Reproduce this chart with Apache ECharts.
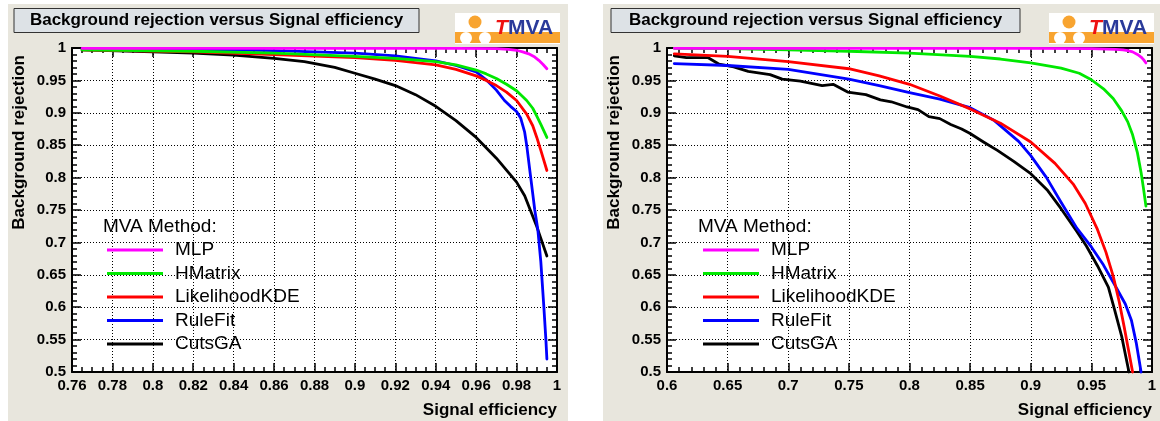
<!DOCTYPE html>
<html>
<head>
<meta charset="utf-8">
<script src="https://cdn.jsdelivr.net/npm/echarts@6/dist/echarts.min.js"></script>
<style>
html,body{margin:0;padding:0;background:#ffffff;}
#c{width:1160px;height:421px;}
</style>
</head>
<body>
<div id="c"></div>
<script>
// ---------- DATA ----------
const methods = ['MLP', 'HMatrix', 'LikelihoodKDE', 'RuleFit', 'CutsGA'];
const colors = ['#ff00ff', '#00e800', '#ff0000', '#0000ff', '#000000'];

// Left panel (signal efficiency 0.76 - 1)
const L_MLP_x = [0.765, 0.80, 0.85, 0.90, 0.95, 0.97, 0.976, 0.980, 0.983, 0.986, 0.989, 0.991, 0.993, 0.995];
const L_MLP_y = [0.9995, 0.9995, 0.9995, 0.9995, 0.9993, 0.999, 0.998, 0.9965, 0.994, 0.991, 0.986, 0.981, 0.975, 0.968];
const L_HM_x = [0.765, 0.82, 0.86, 0.90, 0.92, 0.94, 0.95, 0.96, 0.965, 0.97, 0.975, 0.98, 0.985, 0.988, 0.99, 0.992, 0.995];
const L_HM_y = [0.997, 0.995, 0.992, 0.987, 0.984, 0.979, 0.974, 0.966, 0.960, 0.953, 0.944, 0.934, 0.919, 0.907, 0.895, 0.882, 0.862];
const L_KDE_x = [0.765, 0.82, 0.86, 0.90, 0.92, 0.94, 0.95, 0.96, 0.965, 0.97, 0.975, 0.98, 0.985, 0.988, 0.99, 0.992, 0.995];
const L_KDE_y = [0.997, 0.994, 0.990, 0.985, 0.981, 0.974, 0.967, 0.957, 0.950, 0.942, 0.932, 0.919, 0.898, 0.880, 0.862, 0.842, 0.811];
const L_RF_x = [0.765, 0.82, 0.86, 0.88, 0.90, 0.92, 0.94, 0.95, 0.96, 0.965, 0.97, 0.974, 0.977, 0.98, 0.982, 0.984, 0.985, 0.987, 0.989, 0.9905, 0.992, 0.9935, 0.9945, 0.995];
const L_RF_y = [0.9985, 0.998, 0.996, 0.994, 0.992, 0.988, 0.980, 0.973, 0.963, 0.951, 0.935, 0.919, 0.910, 0.902, 0.892, 0.870, 0.850, 0.800, 0.750, 0.720, 0.670, 0.600, 0.550, 0.520];
const L_GA_x = [0.765, 0.80, 0.82, 0.84, 0.86, 0.875, 0.89, 0.90, 0.91, 0.92, 0.93, 0.94, 0.95, 0.96, 0.97, 0.98, 0.984, 0.9897, 0.995];
const L_GA_y = [0.997, 0.994, 0.992, 0.989, 0.984, 0.979, 0.970, 0.961, 0.952, 0.942, 0.928, 0.910, 0.888, 0.862, 0.830, 0.793, 0.772, 0.727, 0.679];

// Right panel (signal efficiency 0.6 - 1)
const R_MLP_x = [0.606, 0.70, 0.80, 0.90, 0.95, 0.97, 0.976, 0.98, 0.984, 0.988, 0.991, 0.993, 0.995];
const R_MLP_y = [0.9995, 0.9995, 0.9995, 0.9993, 0.999, 0.998, 0.997, 0.996, 0.994, 0.990, 0.986, 0.982, 0.977];
const R_HM_x = [0.606, 0.65, 0.70, 0.75, 0.80, 0.85, 0.875, 0.90, 0.925, 0.94, 0.95, 0.96, 0.968, 0.975, 0.98, 0.984, 0.988, 0.991, 0.993, 0.995];
const R_HM_y = [0.9995, 0.999, 0.997, 0.995, 0.992, 0.987, 0.983, 0.977, 0.969, 0.961, 0.951, 0.937, 0.922, 0.903, 0.886, 0.866, 0.838, 0.808, 0.783, 0.756];
const R_KDE_x = [0.606, 0.65, 0.70, 0.75, 0.775, 0.80, 0.825, 0.85, 0.875, 0.90, 0.92, 0.935, 0.945, 0.955, 0.962, 0.968, 0.973, 0.977, 0.981, 0.984];
const R_KDE_y = [0.991, 0.987, 0.979, 0.968, 0.957, 0.944, 0.926, 0.906, 0.884, 0.855, 0.822, 0.790, 0.760, 0.720, 0.685, 0.648, 0.608, 0.570, 0.530, 0.500];
const R_RF_x = [0.606, 0.65, 0.70, 0.75, 0.775, 0.80, 0.825, 0.85, 0.87, 0.89, 0.90, 0.913, 0.925, 0.938, 0.95, 0.96, 0.97, 0.978, 0.983, 0.987, 0.991];
const R_RF_y = [0.976, 0.973, 0.967, 0.952, 0.942, 0.931, 0.921, 0.908, 0.888, 0.856, 0.834, 0.800, 0.762, 0.722, 0.693, 0.665, 0.632, 0.605, 0.580, 0.545, 0.500];
const R_GA_x = [0.606, 0.616, 0.634, 0.643, 0.655, 0.667, 0.685, 0.695, 0.71, 0.728, 0.737, 0.749, 0.764, 0.776, 0.785, 0.798, 0.807, 0.816, 0.825, 0.834, 0.843, 0.85, 0.861, 0.8725, 0.886, 0.90, 0.914, 0.925, 0.938, 0.946, 0.955, 0.964, 0.969, 0.975, 0.981];
const R_GA_y = [0.988, 0.985, 0.985, 0.975, 0.971, 0.964, 0.959, 0.952, 0.949, 0.942, 0.944, 0.932, 0.928, 0.920, 0.917, 0.909, 0.905, 0.894, 0.891, 0.882, 0.875, 0.868, 0.855, 0.842, 0.825, 0.806, 0.780, 0.752, 0.717, 0.694, 0.664, 0.631, 0.597, 0.555, 0.500];

// Axis ranges
const L_xRange = { min: 0.76, max: 1, interval: 0.02, minor: 4 };
const R_xRange = { min: 0.6, max: 1, interval: 0.05, minor: 5 };
const yRange = { min: 0.5, max: 1, interval: 0.05, minor: 5 };

const panelTitle = 'Background rejection versus Signal efficiency';
const xTitle = 'Signal efficiency';
const yTitle = 'Background rejection';
const legendHeader = 'MVA Method:';

// ---------- BUILD ----------
const FONT = '"Liberation Sans", Arial, Helvetica, sans-serif';
const BEIGE = '#e8e6dd';
const zip = (xs, ys) => xs.map((x, i) => [x, ys[i]]);

const leftSets = [[L_MLP_x, L_MLP_y], [L_HM_x, L_HM_y], [L_KDE_x, L_KDE_y], [L_RF_x, L_RF_y], [L_GA_x, L_GA_y]];
const rightSets = [[R_MLP_x, R_MLP_y], [R_HM_x, R_HM_y], [R_KDE_x, R_KDE_y], [R_RF_x, R_RF_y], [R_GA_x, R_GA_y]];

const grids = [
  { left: 72, top: 48, width: 485, height: 324, show: true, backgroundColor: '#ffffff', borderWidth: 0, outerBoundsMode: 'none' },
  { left: 667, top: 48, width: 485, height: 324, show: true, backgroundColor: '#ffffff', borderWidth: 0, outerBoundsMode: 'none' }
];

const labelStyle = { show: true, margin: 6, color: '#000', fontFamily: FONT, fontWeight: 'bold', fontSize: 15, showMinLabel: true, showMaxLabel: true, hideOverlap: false };

function makeAxes(gi, r, posMain, posMirror) {
  const base = {
    type: 'value', gridIndex: gi, min: r.min, max: r.max, interval: r.interval,
    axisLine: { show: true, onZero: false, lineStyle: { color: '#000', width: 2 } },
    axisTick: { show: true, inside: true, length: 9, lineStyle: { color: '#000', width: 1.5 } },
    minorTick: { show: true, splitNumber: r.minor, length: 5, lineStyle: { color: '#000', width: 1.5 } },
  };
  return [
    Object.assign({}, base, {
      position: posMain,
      axisLabel: labelStyle,
      splitLine: { show: true, lineStyle: { color: '#000', type: [1, 2], width: 1 } }
    }),
    Object.assign({}, base, {
      position: posMirror,
      axisLabel: { show: false },
      splitLine: { show: false }
    })
  ];
}

const series = [];
[leftSets, rightSets].forEach((sets, gi) => {
  sets.forEach((s, i) => {
    series.push({
      type: 'line', name: methods[i],
      xAxisIndex: gi * 2, yAxisIndex: gi * 2,
      data: zip(s[0], s[1]),
      showSymbol: false, symbol: 'none',
      smooth: false,
      clip: false,
      color: colors[i],
      lineStyle: { color: colors[i], width: 2.8, join: 'round', cap: 'round' },
      z: 10 - i
    });
  });
});

function legendFor(left) {
  return {
    show: true, orient: 'vertical', left: left, top: 239,
    icon: 'rect', itemWidth: 56, itemHeight: 3, itemGap: 1.5,
    selectedMode: false, padding: 0,
    textStyle: { fontFamily: FONT, fontSize: 19, color: '#000', lineHeight: 22, padding: [0, 0, 0, 7] },
    data: methods
  };
}

function panelGraphics(px, pw, titleX, titleW, logoX, plotRight, headX) {
  return [
    { type: 'rect', z: -10, silent: true, shape: { x: px, y: 4, width: pw, height: 417 }, style: { fill: BEIGE } },
    { type: 'rect', z: 1, shape: { x: titleX, y: 8.5, width: titleW, height: 24 }, style: { fill: '#dde2e6', stroke: '#333', lineWidth: 1 } },
    { type: 'text', z: 2, x: titleX + titleW / 2, y: 20.5, style: { text: panelTitle, font: 'bold 17px ' + FONT, fill: '#000', align: 'center', verticalAlign: 'middle' } },
    // TMVA logo
    { type: 'rect', z: 1, shape: { x: logoX, y: 13, width: 105, height: 31 }, style: { fill: '#ffffff' } },
    { type: 'rect', z: 2, shape: { x: logoX, y: 32, width: 105, height: 11 }, style: { fill: '#f8a430' } },
    { type: 'circle', z: 3, shape: { cx: logoX + 20, cy: 22, r: 6.5 }, style: { fill: '#f8a430' } },
    { type: 'circle', z: 3, shape: { cx: logoX + 11, cy: 38, r: 6 }, style: { fill: '#ffffff' } },
    { type: 'circle', z: 3, shape: { cx: logoX + 30, cy: 38, r: 6 }, style: { fill: '#ffffff' } },
    { type: 'text', z: 4, x: logoX + 40, y: 28, style: { text: 'T', font: 'italic bold 21px ' + FONT, fill: '#ee1111', align: 'left', verticalAlign: 'middle' } },
    { type: 'text', z: 4, x: logoX + 53, y: 28, style: { text: 'MVA', font: 'bold 21px ' + FONT, fill: '#2a3a9a', align: 'left', verticalAlign: 'middle' } },
    // axis titles
    { type: 'text', z: 2, x: plotRight, y: 410, style: { text: xTitle, font: 'bold 17px ' + FONT, fill: '#000', align: 'right', verticalAlign: 'middle' } },
    { type: 'text', z: 2, x: px + 11, y: 55, rotation: Math.PI / 2, style: { text: yTitle, font: 'bold 17px ' + FONT, fill: '#000', align: 'right', verticalAlign: 'middle' } },
    // legend header
    { type: 'text', z: 20, x: headX, y: 227, style: { text: legendHeader, font: '19px ' + FONT, fill: '#000', align: 'left', verticalAlign: 'middle' } }
  ];
}

const option = {
  animation: false,
  backgroundColor: '#ffffff',
  grid: grids,
  xAxis: [].concat(makeAxes(0, L_xRange, 'bottom', 'top'), makeAxes(1, R_xRange, 'bottom', 'top')),
  yAxis: [].concat(makeAxes(0, yRange, 'left', 'right'), makeAxes(1, yRange, 'left', 'right')),
  legend: [legendFor(107), legendFor(703)],
  series: series,
  graphic: [].concat(
    panelGraphics(8, 560, 14, 405, 455, 557, 103),
    panelGraphics(603, 557, 611, 409, 1049, 1152, 698)
  )
};

const chart = echarts.init(document.getElementById('c'), null, { renderer: 'canvas' });
chart.setOption(option);
</script>
</body>
</html>
